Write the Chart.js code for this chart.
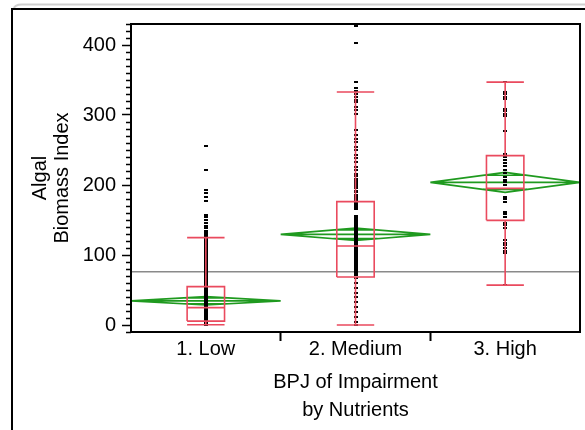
<!DOCTYPE html>
<html>
<head>
<meta charset="utf-8">
<script src="https://cdn.jsdelivr.net/npm/chart.js@4.4.1/dist/chart.umd.min.js"></script>
<style>
  html, body { margin: 0; padding: 0; background: #ffffff; }
  #wrap { position: relative; width: 585px; height: 430px; }
</style>
</head>
<body>
<div id="wrap"><canvas id="c" width="585" height="430"></canvas></div>
<script>
// Groups on the x axis
const categories = ['1. Low', '2. Medium', '3. High'];

// Individual observations per group
const lowValues = [255.4, 221.0, 193.2, 188.5, 183.1, 176.8, 157.6, 153.9, 150.2, 145.7, 141.8, 138.3,
  134.6, 131.2, 128.4, 125.1, 122.7, 120.9, 118.2, 115.6, 113.4, 110.8, 108.3, 105.9, 103.2, 100.7,
  98.6, 96.9, 94.1, 91.8, 89.7, 87.2, 85.4, 82.9, 81.0, 78.6, 76.8, 74.5, 72.3, 70.1, 68.2, 65.9,
  64.0, 61.7, 60.2, 58.4, 56.9, 55.1, 53.6, 51.8, 50.3, 48.9, 47.2, 45.8, 44.1, 42.7, 41.3, 39.8,
  38.6, 37.2, 35.9, 34.8, 33.5, 32.1, 30.9, 29.6, 28.4, 27.3, 26.1, 24.8, 23.7, 22.5, 21.4, 20.2,
  19.1, 17.9, 16.8, 15.7, 14.5, 13.4, 12.3, 11.1, 10.2, 9.0, 7.9, 6.8, 5.6, 4.5, 3.4, 2.3, 1.2, 0.4];
const mediumValues = [427.0, 402.3, 347.1, 338.2, 334.0, 329.8, 325.6, 321.7, 317.9, 312.1, 306.8,
  301.5, 278.6, 271.2, 266.0, 261.8, 254.9, 250.1, 243.0, 238.2, 233.1, 226.0, 221.2, 215.8, 212.3,
  209.1, 206.2, 203.4, 200.3, 197.8, 195.1, 192.0, 189.3, 186.2, 183.4, 180.1, 177.3, 174.2, 171.0,
  168.3, 165.9, 155.1, 152.2, 149.4, 146.6, 143.7, 140.9, 138.1, 135.2, 132.4, 129.8, 127.1, 124.2,
  121.3, 118.6, 115.9, 113.0, 110.2, 107.4, 104.3, 101.5, 98.7, 95.8, 93.1, 90.2, 87.3, 84.6, 81.7,
  78.9, 76.2, 73.4, 70.9, 66.7, 59.5, 52.4, 45.2, 40.5, 33.3, 26.2, 19.0, 11.9, 4.8, 0.6];
const highValues = [347.0, 333.3, 330.0, 326.1, 322.9, 308.4, 305.2, 301.6, 297.9, 277.8, 243.6,
  240.1, 236.3, 231.0, 227.4, 222.0, 216.5, 211.2, 207.0, 203.8, 199.6, 183.0, 179.8, 176.1, 162.0,
  158.3, 155.0, 146.2, 142.4, 138.8, 121.0, 117.3, 114.1, 110.2, 106.4, 103.1, 56.9];

// Means diamonds: group means and 95% confidence half-widths
const groupMeans = [34.6, 129.5, 203.8];
const ciHalfWidths = [6.0, 8.8, 14.3];
const grandMean = 76.2;

// Box plot summaries
const whiskerLow = [0.4, 0.0, 56.9];
const quartile1 = [5.6, 68.6, 149.5];
const medians = [24.8, 112.9, 195.2];
const quartile3 = [54.8, 176.2, 241.9];
const whiskerHigh = [124.8, 332.9, 347.0];

// Axis ticks
const yMajorTicks = [0, 100, 200, 300, 400];
const yMin = -10, yMax = 430, yMinorStep = 10;

const FONT = "'Liberation Sans', Arial, Helvetica, sans-serif";
const BOX_RED = '#ea4a5e';
const DIAMOND_GREEN = '#1f9a1f';

const GAP = (x) => ({ x: x, y: null });

function boxOutline() {
  const w = 0.125;
  const pts = [];
  categories.forEach((_, i) => {
    const c = i + 1;
    pts.push({ x: c - w, y: quartile1[i] }, { x: c + w, y: quartile1[i] }, { x: c + w, y: quartile3[i] },
      { x: c - w, y: quartile3[i] }, { x: c - w, y: quartile1[i] }, GAP(c));
    pts.push({ x: c - w, y: medians[i] }, { x: c + w, y: medians[i] }, GAP(c));
    pts.push({ x: c, y: quartile3[i] }, { x: c, y: whiskerHigh[i] }, GAP(c));
    pts.push({ x: c, y: quartile1[i] }, { x: c, y: whiskerLow[i] }, GAP(c));
    pts.push({ x: c - w, y: whiskerHigh[i] }, { x: c + w, y: whiskerHigh[i] }, GAP(c));
    pts.push({ x: c - w, y: whiskerLow[i] }, { x: c + w, y: whiskerLow[i] }, GAP(c));
  });
  return pts;
}

function diamondOutline() {
  const pts = [];
  const half = 0.5;
  categories.forEach((_, i) => {
    const c = i + 1, m = groupMeans[i], h = ciHalfWidths[i];
    pts.push({ x: c - half, y: m }, { x: c, y: m + h }, { x: c + half, y: m }, { x: c, y: m - h },
      { x: c - half, y: m }, GAP(c));
    pts.push({ x: c - half, y: m }, { x: c + half, y: m }, GAP(c));
    // overlap marks
    const d = h / Math.SQRT2, hw = half * (1 - 1 / Math.SQRT2);
    pts.push({ x: c - hw, y: m + d }, { x: c + hw, y: m + d }, GAP(c));
    pts.push({ x: c - hw, y: m - d }, { x: c + hw, y: m - d }, GAP(c));
  });
  return pts;
}

function observations() {
  const pts = [];
  [lowValues, mediumValues, highValues].forEach((vals, i) => {
    vals.forEach(v => pts.push({ x: i + 1, y: v }));
  });
  return pts;
}

// small square marker for observations
const marker = document.createElement('canvas');
marker.width = 4; marker.height = 2;
(function () { const g = marker.getContext('2d'); g.fillStyle = '#000'; g.fillRect(0, 0, 4, 2); })();

const framePlugin = {
  id: 'frame',
  beforeDraw(chart) {
    const ctx = chart.ctx;
    ctx.save();
    // window edge and outline box
    ctx.strokeStyle = '#cfcfcf';
    ctx.lineWidth = 2;
    ctx.beginPath();
    ctx.moveTo(14, 9);
    ctx.quadraticCurveTo(14, 4.5, 22, 4.5);
    ctx.lineTo(585, 4.5);
    ctx.stroke();
    ctx.strokeStyle = '#000';
    ctx.lineWidth = 2;
    ctx.beginPath();
    ctx.moveTo(12, 430);
    ctx.lineTo(12, 9);
    ctx.lineTo(585, 9);
    ctx.stroke();
    ctx.restore();
  },
  afterDraw(chart) {
    const ctx = chart.ctx, a = chart.chartArea, ys = chart.scales.y;
    ctx.save();
    ctx.strokeStyle = '#000';
    ctx.lineWidth = 1.5;
    ctx.beginPath();
    for (let v = yMin; v <= yMax; v += yMinorStep) {
      if (yMajorTicks.includes(v)) continue;
      const py = Math.round(ys.getPixelForValue(v)) + 0.5;
      ctx.moveTo(a.left - 5, py);
      ctx.lineTo(a.left, py);
    }
    ctx.stroke();
    ctx.lineWidth = 2;
    ctx.strokeRect(a.left, a.top, a.right - a.left, a.bottom - a.top);
    ctx.restore();
  }
};

new Chart(document.getElementById('c'), {
  type: 'scatter',
  data: {
    datasets: [
      { data: boxOutline(), showLine: true, borderColor: BOX_RED, borderWidth: 1.6, pointRadius: 0,
        spanGaps: false, fill: false, order: 0 },
      { data: observations(), showLine: false, pointStyle: marker, pointRadius: 2, order: 1 },
      { data: diamondOutline(), showLine: true, borderColor: DIAMOND_GREEN, borderWidth: 1.7, pointRadius: 0,
        spanGaps: false, fill: false, order: 2 },
      { data: [{ x: 0.5, y: grandMean }, { x: 3.5, y: grandMean }], showLine: true, borderColor: '#8a8a8a',
        borderWidth: 1.5, pointRadius: 0, order: 3 }
    ]
  },
  options: {
    responsive: false,
    animation: false,
    events: [],
    layout: { padding: { top: 24, right: 2, left: 0, bottom: 0 } },
    plugins: { legend: { display: false }, tooltip: { enabled: false } },
    scales: {
      x: {
        type: 'linear', min: 0.5, max: 3.5,
        afterBuildTicks: (s) => { s.ticks = [0.5, 1, 1.5, 2, 2.5, 3, 3.5].map(v => ({ value: v })); },
        afterFit: (s) => { s.height = 98; },
        grid: {
          drawOnChartArea: false, tickLength: 9, tickWidth: 2,
          tickColor: (ctx) => (ctx.tick && (ctx.tick.value === 1.5 || ctx.tick.value === 2.5)) ? '#000' : 'rgba(0,0,0,0)'
        },
        border: { display: true, color: '#000', width: 2 },
        ticks: {
          autoSkip: false, maxRotation: 0, padding: -2, color: '#000',
          font: { family: FONT, size: 20, lineHeight: 1 },
          callback: (v) => Number.isInteger(v) ? categories[v - 1] : ''
        },
        title: {
          display: true, text: ['BPJ of Impairment', 'by Nutrients'], color: '#000',
          font: { family: FONT, size: 20, lineHeight: 28 / 20 }, padding: { top: 0, bottom: 6 }
        }
      },
      y: {
        type: 'linear', min: yMin, max: yMax,
        afterBuildTicks: (s) => { s.ticks = yMajorTicks.map(v => ({ value: v })); },
        afterFit: (s) => { s.width = 131; },
        grid: { drawOnChartArea: false, tickLength: 9, tickWidth: 1.5, tickColor: '#000' },
        border: { display: true, color: '#000', width: 2 },
        ticks: { padding: 6, color: '#000', font: { family: FONT, size: 20 } },
        title: {
          display: true, text: ['Algal', 'Biomass Index'], color: '#000',
          font: { family: FONT, size: 20, lineHeight: 1.1 }, padding: { top: 29, bottom: 0 }
        }
      }
    }
  },
  plugins: [framePlugin]
});
</script>
</body>
</html>
